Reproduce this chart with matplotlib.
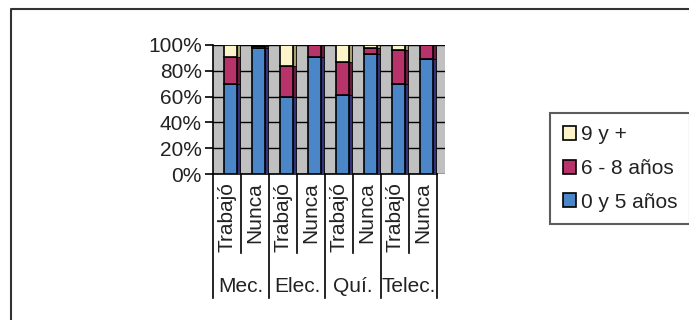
import matplotlib
matplotlib.use("Agg")
from matplotlib import pyplot as plt
from matplotlib.patches import Patch
from matplotlib.lines import Line2D
import numpy as np

plt.rcParams['font.family'] = ['Liberation Sans', 'DejaVu Sans']

# data
sub_labels = ["Trabajó", "Nunca", "Trabajó", "Nunca", "Trabajó", "Nunca", "Trabajó", "Nunca"]
groups = ["Mec.", "Elec.", "Quí.", "Telec."]
s_0_5 = [70, 98, 60, 91, 61, 93, 70, 89]
s_6_8 = [21, 1, 24, 9, 26, 5, 26, 11]
s_9 = [9, 1, 16, 0, 13, 2, 4, 0]
series_names = ["0 y 5 años", "6 - 8 años", "9 y +"]
colors = ["#4a86c8", "#b8336a", "#fdf5c9"]
side_colors = ["#34327a", "#6a1a3c", "#a89f70"]

fs = 15

fig = plt.figure(figsize=(6.89, 3.2), dpi=100)
# chart border (only top and left visible, the rest is cropped)
fig.lines.append(Line2D([11/689, 11/689, 1], [0, 1 - 9/320, 1 - 9/320], transform=fig.transFigure,
                        color="#333333", linewidth=1.5))

ax = fig.add_axes([213/689, (320-174)/320, 232/689, 129/320])
ax.set_facecolor("#c0c0c0")
ax.set_xlim(-0.5, -0.5 + 232/28)
ax.set_ylim(0, 100)

x = np.arange(len(sub_labels)) + 0.11
w = 0.46
d = 0.13
bottom = np.zeros(len(x))
for vals, c, sc in zip([s_0_5, s_6_8, s_9], colors, side_colors):
    vals = np.array(vals)
    ax.bar(x, vals, width=w, bottom=bottom, color=c, edgecolor="black", linewidth=1.2, zorder=3)
    ax.bar(x + w/2 + d/2, vals, width=d, bottom=bottom, color=sc, edgecolor="black", linewidth=0.6, zorder=3)
    bottom += vals

ax.set_yticks([0, 20, 40, 60, 80, 100])
ax.set_yticklabels(["0%", "20%", "40%", "60%", "80%", "100%"], fontsize=fs, color="#222222")
ax.yaxis.grid(True, color="black", linewidth=1)
ax.set_axisbelow(True)
ax.set_xticks([])
ax.tick_params(axis="y", length=6, width=1.2, pad=2)
ax.spines["top"].set_visible(False)
ax.spines["right"].set_visible(False)
ax.spines["left"].set_linewidth(1.2)
ax.spines["bottom"].set_linewidth(1.2)
ax.spines["bottom"].set_bounds(-0.5, 7.5)

# category axis labels
tr = ax.get_xaxis_transform()
for i, lab in enumerate(sub_labels):
    ax.text(i, -0.065, lab, rotation=90, ha="center", va="top", fontsize=fs, color="#222222", transform=tr)
for i in range(len(sub_labels) + 1):
    bot = -0.965 if i % 2 == 0 else -0.615
    ax.plot([i - 0.5, i - 0.5], [0, bot], color="black", linewidth=1.2, transform=tr, clip_on=False)
for g, lab in enumerate(groups):
    ax.text(2*g + 0.5, -0.875, lab, ha="center", va="center", fontsize=fs, color="#222222", transform=tr)

handles = [Patch(facecolor=colors[k], edgecolor="black", linewidth=1.2) for k in range(3)][::-1]
leg = fig.legend(handles, series_names[::-1], loc="upper left", bbox_to_anchor=(550/689, 1 - 113/320),
                 fontsize=fs, frameon=True, fancybox=False, edgecolor="#333333",
                 handlelength=0.65, handleheight=0.65, handletextpad=0.25, labelspacing=0.7,
                 borderpad=0.6, borderaxespad=0)
leg.get_frame().set_linewidth(1.5)
for t in leg.get_texts():
    t.set_color("#222222")

fig.savefig("out.png", dpi=100)
